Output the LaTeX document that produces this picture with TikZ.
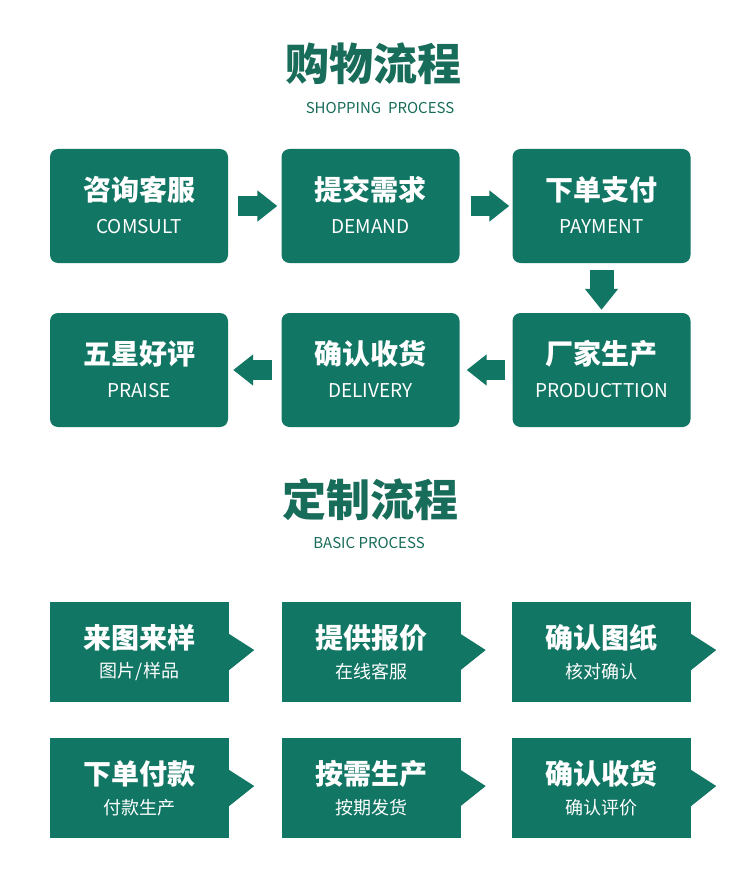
\documentclass[tikz,border=0pt]{standalone}
\usepackage{fontspec}
\setmainfont{Noto Sans CJK SC}
\usetikzlibrary{calc,arrows.meta}
\definecolor{boxgreen}{RGB}{18,118,100}
\definecolor{headgreen}{RGB}{24,108,90}
\tikzset{
	pbox/.style={fill=boxgreen, rounded corners=8pt, minimum width=178pt, minimum height=114pt, inner sep=0pt},
	cbox/.style={fill=boxgreen, minimum width=179pt, minimum height=100pt, inner sep=0pt},
	maintext/.style={text=white, font=\fontsize{28}{30}\selectfont\bfseries, inner sep=0pt},
	subtext/.style={text=white, font=\fontsize{19}{22}\selectfont, inner sep=0pt},
	csubtext/.style={text=white, font=\fontsize{18}{20}\selectfont, inner sep=0pt},
	heading/.style={text=headgreen, font=\fontsize{44}{48}\selectfont\bfseries, inner sep=0pt},
	subheading/.style={text=headgreen, font=\fontsize{15}{18}\selectfont, inner sep=0pt},
	flow/.style={draw=boxgreen, line width=20pt, -{Triangle[width=30pt,length=20pt]}},
	flowdown/.style={draw=boxgreen, line width=24pt, -{Triangle[width=32pt,length=21pt]}}
}
\def\pointer(#1){\fill[boxgreen] ($(#1.east)+(0,-18)$) -- ($(#1.east)+(25,-2)$) -- ($(#1.east)+(0,18)$) -- cycle;}

\begin{document}
\begin{tikzpicture}[x=1pt, y=-1pt]
			%%%%% START %%%%%
			
			\fill[white] (0, 0) rectangle (750, 869);
			\useasboundingbox (0, 0) rectangle (750, 869);
			
			\node[heading] (shoptitle) at (373, 64) {购物流程};
			\node[subheading] (shopsub) at (380, 108) {SHOPPING\ \ PROCESS};
			
			\node[pbox] (consult) at (139, 206) {};
			\node[pbox] (demand) at (370.5, 206) {};
			\node[pbox] (payment) at (601.5, 206) {};
			\node[pbox] (production) at (601.5, 370) {};
			\node[pbox] (delivery) at (370.5, 370) {};
			\node[pbox] (praise) at (139, 370) {};
			
			\node[maintext] (consultA) at ($(consult)+(0,-16)$) {咨询客服};
			\node[subtext] (consultB) at ($(consult)+(0,21)$) {COMSULT};
			\node[maintext] (demandA) at ($(demand)+(0,-16)$) {提交需求};
			\node[subtext] (demandB) at ($(demand)+(0,21)$) {DEMAND};
			\node[maintext] (paymentA) at ($(payment)+(0,-16)$) {下单支付};
			\node[subtext] (paymentB) at ($(payment)+(0,21)$) {PAYMENT};
			\node[maintext] (productionA) at ($(production)+(0,-16)$) {厂家生产};
			\node[subtext] (productionB) at ($(production)+(0,21)$) {PRODUCTTION};
			\node[maintext] (deliveryA) at ($(delivery)+(0,-16)$) {确认收货};
			\node[subtext] (deliveryB) at ($(delivery)+(0,21)$) {DELIVERY};
			\node[maintext] (praiseA) at ($(praise)+(0,-16)$) {五星好评};
			\node[subtext] (praiseB) at ($(praise)+(0,21)$) {PRAISE};
			
			\draw[flow] ($(consult.east)+(10,0)$) -- ($(demand.west)+(-4,0)$);
			\draw[flow] ($(demand.east)+(11,0)$) -- ($(payment.west)+(-3,0)$);
			\draw[flowdown] ($(payment.south)+(0,7)$) -- ($(production.north)+(0,-3)$);
			\draw[flow] ($(production.west)+(-7,0)$) -- ($(delivery.east)+(7,0)$);
			\draw[flow] ($(delivery.west)+(-9,0)$) -- ($(praise.east)+(5,0)$);
			
			\node[heading] (customtitle) at (370, 500) {定制流程};
			\node[subheading] (customsub) at (369, 543) {BASIC PROCESS};
			
			\node[cbox] (sample) at (139.5, 652) {};
			\node[cbox] (quote) at (371, 652) {};
			\node[cbox] (drawing) at (601.5, 652) {};
			\node[cbox] (order) at (139.5, 788) {};
			\node[cbox] (produce) at (371, 788) {};
			\node[cbox] (receive) at (601.5, 788) {};
			
			\pointer(sample)
			\pointer(quote)
			\pointer(drawing)
			\pointer(order)
			\pointer(produce)
			\pointer(receive)
			
			\node[maintext] (sampleA) at ($(sample)+(0,-14)$) {来图来样};
			\node[csubtext] (sampleB) at ($(sample)+(0,20)$) {图片/样品};
			\node[maintext] (quoteA) at ($(quote)+(0,-14)$) {提供报价};
			\node[csubtext] (quoteB) at ($(quote)+(0,20)$) {在线客服};
			\node[maintext] (drawingA) at ($(drawing)+(0,-14)$) {确认图纸};
			\node[csubtext] (drawingB) at ($(drawing)+(0,20)$) {核对确认};
			\node[maintext] (orderA) at ($(order)+(0,-14)$) {下单付款};
			\node[csubtext] (orderB) at ($(order)+(0,20)$) {付款生产};
			\node[maintext] (produceA) at ($(produce)+(0,-14)$) {按需生产};
			\node[csubtext] (produceB) at ($(produce)+(0,20)$) {按期发货};
			\node[maintext] (receiveA) at ($(receive)+(0,-14)$) {确认收货};
			\node[csubtext] (receiveB) at ($(receive)+(0,20)$) {确认评价};
			
			%%%%% END %%%%%
\end{tikzpicture}
\end{document}
